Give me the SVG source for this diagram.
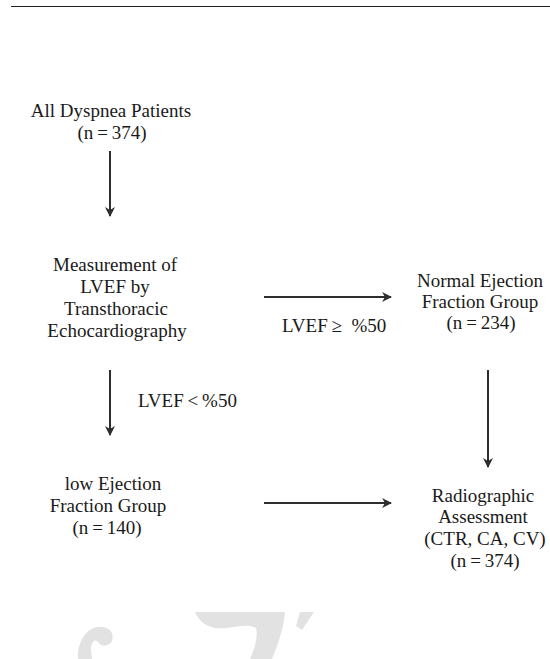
<svg xmlns="http://www.w3.org/2000/svg" width="550" height="659" viewBox="0 0 550 659">
<style>
text{font-family:"Liberation Serif","Times New Roman",serif;font-size:19px;fill:#1a1a1a;text-anchor:middle}
.lbl{text-anchor:start}
.conn line{stroke:#2e2e2e;stroke-width:2}
.wm{fill:#e2e2e2}
</style>
<defs>
<marker id="ah" viewBox="0 0 10 10" refX="9" refY="5" markerWidth="5" markerHeight="5" orient="auto" markerUnits="strokeWidth">
<path d="M0,0 L10,5 L0,10 L3,5 Z" fill="#2e2e2e"/>
</marker>
</defs>
<rect width="550" height="659" fill="#ffffff"/>
<line x1="11" y1="6.5" x2="550" y2="6.5" stroke="#222" stroke-width="1.2"/>
<g id="watermark">
<path class="wm" d="M78 659 C77 644 85 628 99 627 C109 626 115 633 112 641 C109 647 101 647 98 642 C95 638 91 642 91 650 L92 659 Z"/>
<path class="wm" d="M195 612 L285 612 C283 630 278 645 272 659 L250 659 C256 645 258 635 256 628 C245 622 230 630 215 628 C205 626 198 620 195 612 Z"/>
<path class="wm" d="M300 612 L314 612 L302 630 L296 626 Z"/>
</g>
<g id="n-all">
<text x="111" y="117">All Dyspnea Patients</text>
<text x="112" y="139">(n&#8201;=&#8201;374)</text>
</g>
<g id="n-measure">
<text x="115" y="271">Measurement of</text>
<text x="115" y="293">LVEF by</text>
<text x="116" y="315">Transthoracic</text>
<text x="117" y="337">Echocardiography</text>
</g>
<g id="n-normal">
<text x="480" y="287">Normal Ejection</text>
<text x="480" y="308">Fraction Group</text>
<text x="481" y="329">(n&#8201;=&#8201;234)</text>
</g>
<g id="n-low">
<text x="113" y="490">low Ejection</text>
<text x="108" y="512">Fraction Group</text>
<text x="107" y="534">(n&#8201;=&#8201;140)</text>
</g>
<g id="n-radio">
<text x="483" y="502">Radiographic</text>
<text x="483" y="523">Assessment</text>
<text x="485" y="545">(CTR, CA, CV)</text>
<text x="485" y="567">(n&#8201;=&#8201;374)</text>
</g>
<g id="labels">
<text class="lbl" x="282" y="332">LVEF&#8201;≥&#160;&#160;%50</text>
<text class="lbl" x="138" y="407">LVEF&#8201;&lt;&#8201;%50</text>
</g>
<g class="conn" id="connectors">
<line x1="110" y1="151" x2="110" y2="216" marker-end="url(#ah)"/>
<line x1="264" y1="297" x2="391" y2="297" marker-end="url(#ah)"/>
<line x1="110" y1="370" x2="110" y2="435" marker-end="url(#ah)"/>
<line x1="488" y1="370" x2="488" y2="467" marker-end="url(#ah)"/>
<line x1="264" y1="503" x2="391" y2="503" marker-end="url(#ah)"/>
</g>
</svg>
